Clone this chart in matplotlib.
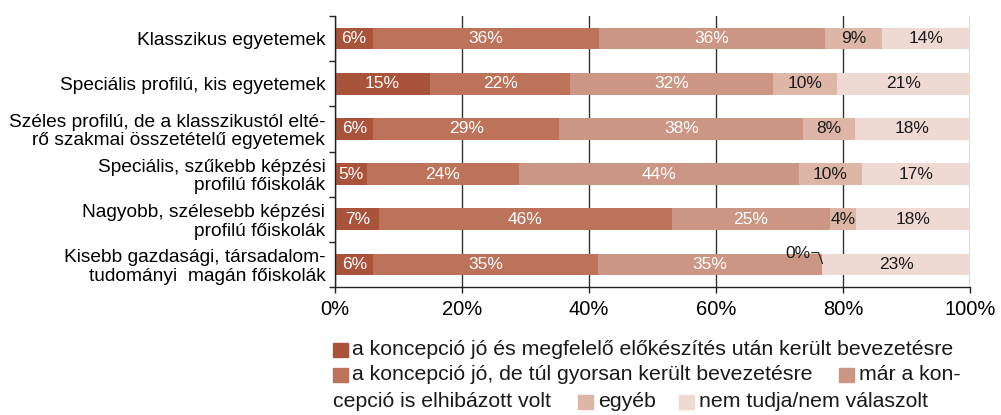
import matplotlib
matplotlib.use("Agg")
import matplotlib.pyplot as plt
from matplotlib.patches import Rectangle
import numpy as np

plt.rcParams['font.family'] = ['Liberation Sans', 'DejaVu Sans']

categories = [
    "Klasszikus egyetemek",
    "Speciális profilú, kis egyetemek",
    "Széles profilú, de a klasszikustól elté-\nrő szakmai összetételű egyetemek",
    "Speciális, szűkebb képzési\nprofilú főiskolák",
    "Nagyobb, szélesebb képzési\nprofilú főiskolák",
    "Kisebb gazdasági, társadalom-\ntudományi  magán főiskolák",
]
s_jo_elokeszitve = [6, 15, 6, 5, 7, 6]
s_jo_gyorsan = [36, 22, 29, 24, 46, 35]
s_elhibazott = [36, 32, 38, 44, 25, 35]
s_egyeb = [9, 10, 8, 10, 4, 0]
s_nem_tudja = [14, 21, 18, 17, 18, 23]

series = [s_jo_elokeszitve, s_jo_gyorsan, s_elhibazott, s_egyeb, s_nem_tudja]
colors = ['#A9533A', '#BC7359', '#CC9684', '#DDB6A8', '#EEDAD3']
text_colors = ['white', 'white', 'white', '#1a1a1a', '#1a1a1a']
xticks = [0, 20, 40, 60, 80, 100]

W, H = 1001, 415
fig = plt.figure(figsize=(W / 100, H / 100), dpi=100)
ax = fig.add_axes([335 / W, 1 - 287 / H, (970 - 335) / W, (287 - 16) / H])

data = np.array(series, dtype=float)
totals = data.sum(axis=0)
share = data / totals * 100
y = np.arange(len(categories))
left = np.zeros(len(categories))

for vals, sh, col, tcol in zip(series, share, colors, text_colors):
    ax.barh(y, sh, left=left, height=0.48, color=col, zorder=2)
    for i, (v, w) in enumerate(zip(vals, sh)):
        if v > 0:
            ax.text(left[i] + w / 2, y[i], f"{v}%", ha='center', va='center',
                    color=tcol, fontsize=12.5, zorder=3)
    left += sh

# 0% label with leader line (last row, 'egyéb')
i = len(categories) - 1
x0 = share[:3, i].sum()
ax.plot([x0 - 1.7, x0 - 0.6, x0], [y[i] - 0.26, y[i] - 0.26, y[i] - 0.02],
        color='#1a1a1a', lw=0.8, zorder=4)
ax.text(x0 - 1.9, y[i] - 0.24, "0%", ha='right', va='center',
        color='#1a1a1a', fontsize=12.5, zorder=4)

ax.set_xlim(0, 100)
ax.set_ylim(len(categories) - 0.5, -0.5)
ax.set_xticks(xticks)
ax.set_xticklabels([f"{t}%" for t in xticks], fontsize=14.5)
ax.set_yticks(y)
ax.set_yticklabels(categories, fontsize=13.8, linespacing=1.1)
ax.set_yticks(np.arange(len(categories) + 1) - 0.5, minor=True)
ax.tick_params(axis='y', which='major', length=0, pad=7)
ax.tick_params(axis='y', which='minor', length=4, width=1, color='#222222')
ax.tick_params(axis='x', length=4, width=1, color='#222222', pad=5)
ax.xaxis.grid(True, color='#333333', lw=1, zorder=0)
ax.set_axisbelow(True)
for side in ['top', 'right']:
    ax.spines[side].set_visible(False)
for side in ['left', 'bottom']:
    ax.spines[side].set_color('#222222')
    ax.spines[side].set_linewidth(1)


def px(x, yy):
    return x / W, 1 - yy / H


def square(x, yy, col):
    fx, fy = px(x, yy + 7)
    fig.patches.append(Rectangle((fx, fy), 15 / W, 14 / H, color=col,
                                 transform=fig.transFigure, figure=fig))


def label(x, yy, s):
    fx, fy = px(x, yy)
    fig.text(fx, fy, s, ha='left', va='center', fontsize=15.3, color='#1a1a1a')


square(333, 350, colors[0])
label(352, 349, "a koncepció jó és megfelelő előkészítés után került bevezetésre")
square(333, 375, colors[1])
label(352, 374, "a koncepció jó, de túl gyorsan került bevezetésre")
square(839, 375, colors[2])
label(859, 374, "már a kon-")
label(333, 401, "cepció is elhibázott volt")
square(578, 402, colors[3])
label(598, 401, "egyéb")
square(679, 402, colors[4])
label(699, 401, "nem tudja/nem válaszolt")

fig.savefig("out.png", dpi=100)
